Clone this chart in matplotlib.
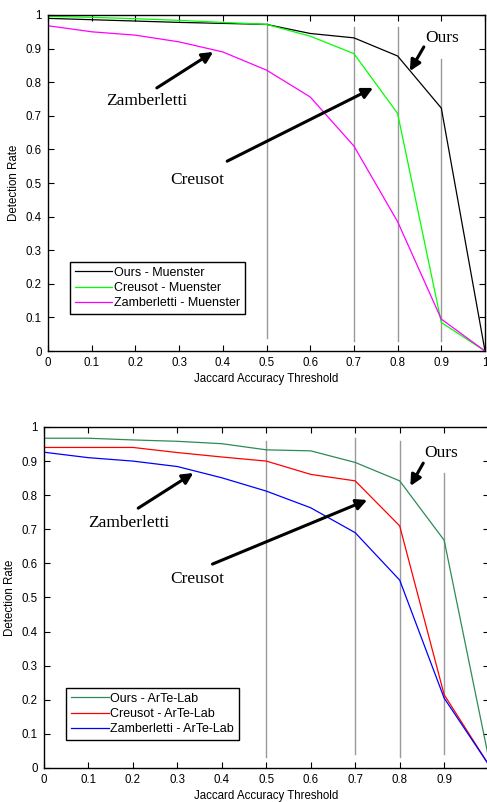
import matplotlib

matplotlib.use("Agg")
import matplotlib.pyplot as plt
import numpy as np

plt.rcParams["font.family"] = ["Liberation Sans", "DejaVu Sans"]

thr = np.round(np.arange(0, 1.01, 0.1), 1)
tick_lbl = ["0", "0.1", "0.2", "0.3", "0.4", "0.5", "0.6", "0.7", "0.8", "0.9", "1"]

# Muenster
ours_mu = [0.99, 0.986, 0.982, 0.978, 0.975, 0.972, 0.945, 0.932, 0.878, 0.723, 0.0]
creusot_mu = [0.996, 0.993, 0.989, 0.984, 0.978, 0.972, 0.937, 0.885, 0.707, 0.085, 0.0]
zamb_mu = [0.968, 0.95, 0.94, 0.92, 0.89, 0.836, 0.756, 0.61, 0.385, 0.095, 0.0]

# ArTe-Lab
ours_al = [0.967, 0.967, 0.962, 0.958, 0.951, 0.933, 0.93, 0.896, 0.842, 0.668, 0.03]
creusot_al = [0.94, 0.94, 0.94, 0.925, 0.912, 0.9, 0.861, 0.842, 0.71, 0.215, 0.01]
zamb_al = [0.926, 0.91, 0.9, 0.884, 0.851, 0.812, 0.763, 0.69, 0.551, 0.205, 0.01]

# vertical marker lines: x, y-bottom, y-top
vl_mu = [(0.5, 0.04, 0.975), (0.7, 0.03, 0.965), (0.8, 0.03, 0.965), (0.9, 0.03, 0.87)]
vl_al = [(0.5, 0.033, 0.96), (0.7, 0.04, 0.969), (0.8, 0.033, 0.96), (0.9, 0.04, 0.865)]

# annotations: text, text pos, arrow tail, arrow head
ann_mu = [("Zamberletti", (0.227, 0.744), (0.249, 0.783), (0.378, 0.890)),
          ("Creusot", (0.341, 0.509), (0.41, 0.565), (0.744, 0.783)),
          ("Ours", (0.902, 0.932), (0.860, 0.905), (0.828, 0.833))]
ann_al = [("Zamberletti", (0.19, 0.718), (0.212, 0.762), (0.336, 0.865)),
          ("Creusot", (0.345, 0.554), (0.379, 0.598), (0.727, 0.786)),
          ("Ours", (0.894, 0.924), (0.853, 0.894), (0.824, 0.827))]


def panel(ax, series, vlines, anns, leg_anchor, xlbl):
    for x, y0, y1 in vlines:
        ax.plot([x, x], [y0, y1], color="#999999", lw=1.0, zorder=1)
    for vals, lab, col in series:
        ax.plot(thr, vals, color=col, lw=0.9, label=lab, zorder=2)
    for txt, tp, tail, head in anns:
        ax.text(tp[0], tp[1], txt, ha="center", va="center", fontsize=12.5,
                family=["Liberation Serif", "DejaVu Serif"])
        ax.annotate("", xy=head, xytext=tail,
                    arrowprops=dict(arrowstyle="-|>", lw=2.2, color="k",
                                    mutation_scale=16, shrinkA=0, shrinkB=0))
    ax.set_xlim(0, 1)
    ax.set_ylim(0, 1)
    ax.set_xticks(thr)
    ax.set_xticklabels(xlbl)
    ax.set_yticks(thr)
    ax.set_yticklabels(tick_lbl)
    ax.tick_params(direction="in", top=True, right=True, labelsize=8.3, length=4, pad=4.5)
    for s in ax.spines.values():
        s.set_linewidth(1.0)
    ax.set_xlabel("Jaccard Accuracy Threshold", fontsize=8.3, labelpad=3)
    ax.set_ylabel("Detection Rate", fontsize=8.3, labelpad=4)
    leg = ax.legend(loc="lower left", bbox_to_anchor=leg_anchor, borderaxespad=0,
                    fontsize=9, handlelength=3.0, handletextpad=0.1,
                    labelspacing=0.25, borderpad=0.4, fancybox=False, framealpha=1)
    leg.get_frame().set_edgecolor("k")
    leg.get_frame().set_linewidth(1.0)


fig = plt.figure(figsize=(4.87, 8.02), dpi=100)
ax1 = fig.add_axes([0.0986, 0.5623, 0.8973, 0.419])
ax2 = fig.add_axes([0.0903, 0.0424, 0.913, 0.4252])

panel(ax1, [(ours_mu, "Ours - Muenster", "k"),
            (creusot_mu, "Creusot - Muenster", "#00FF00"),
            (zamb_mu, "Zamberletti - Muenster", "#FF00FF")],
      vl_mu, ann_mu, (0.05, 0.11), tick_lbl)
# right edge of the lower panel sits at the picture border, so its "1" is not shown
panel(ax2, [(ours_al, "Ours - ArTe-Lab", "#2E8B57"),
            (creusot_al, "Creusot - ArTe-Lab", "#FF0000"),
            (zamb_al, "Zamberletti - ArTe-Lab", "#0000FF")],
      vl_al, ann_al, (0.05, 0.082), tick_lbl[:-1] + [""])

fig.savefig("out.png", dpi=100, facecolor="white")
